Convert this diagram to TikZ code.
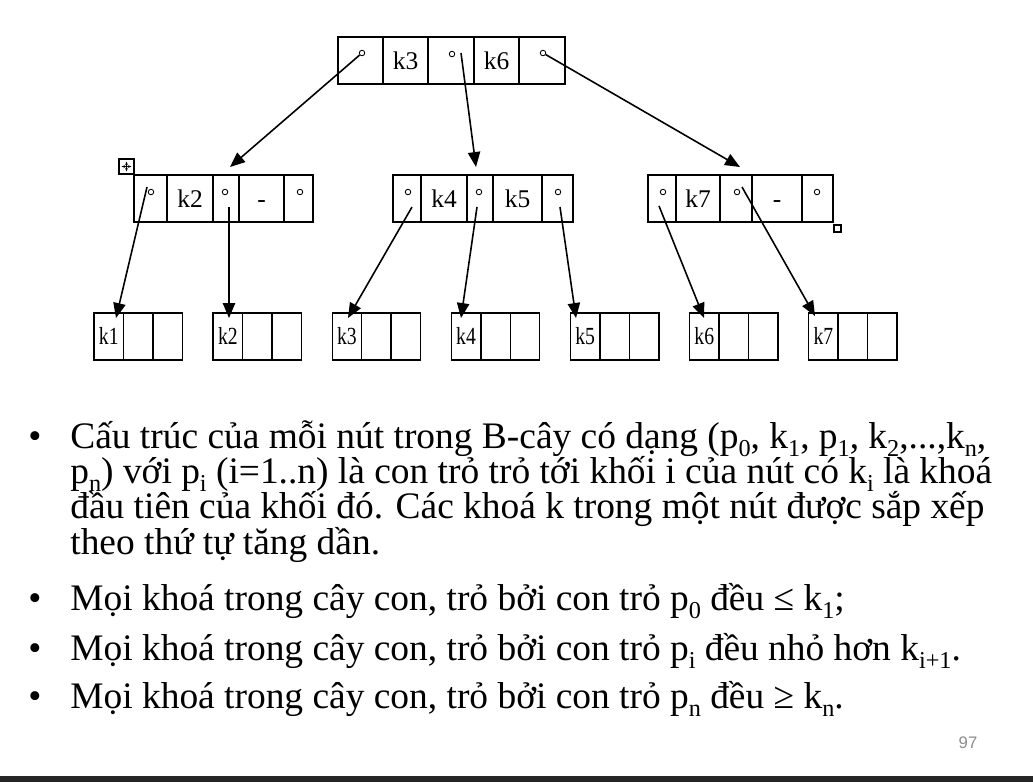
\documentclass[tikz,border=0pt]{standalone}
\usepackage{fontspec}
\usepackage{graphicx}
\setmainfont{Liberation Serif}
\newfontfamily\numfont{Liberation Sans}
\usetikzlibrary{arrows.meta,positioning}
\newcommand\sbs[1]{\raisebox{-0.22em}{\fontsize{13.8}{14}\selectfont #1}}

\begin{document}
\begin{tikzpicture}[x=0.02cm,y=-0.02cm,
  cell/.style={draw,line width=0.8pt,inner sep=0pt,outer sep=0pt,minimum height=0.94cm,text height=10pt,text depth=0pt,font=\fontsize{14.5}{16}\selectfont},
  leafcell/.style={draw,line width=0.8pt,inner sep=0pt,outer sep=0pt,minimum width=0.59cm,minimum height=0.94cm,text height=9.6pt,text depth=0pt,font=\fontsize{14}{16}\selectfont},
  ptr/.style={circle,draw,line width=0.5pt,inner sep=0pt,minimum size=0.11cm},
  arr/.style={line width=0.9pt,-{Triangle[length=8.5pt,width=7pt]}},
  bul/.style={anchor=base west,inner sep=0pt,font=\fontsize{21.3}{24}\selectfont}]

\useasboundingbox (0,0) rectangle (1033,782);

\foreach \a/\b/\t [count=\i] in {338/383/{},383/428/k3,428/474/{},474/519/k6,519/565/{}}
  \node[cell,minimum width={(\b-\a)*0.02cm}] (r\i) at ({(\a+\b)/2},60.5) {\t};
\foreach \a/\b/\t [count=\i] in {134/167/{},167/213/k2,213/239/{},239/284/-,284/313/{}}
  \node[cell,minimum width={(\b-\a)*0.02cm}] (a\i) at ({(\a+\b)/2},198.5) {\t};
\foreach \a/\b/\t [count=\i] in {393/421/{},421/467/k4,467/493/{},493/542/k5,542/573/{}}
  \node[cell,minimum width={(\b-\a)*0.02cm}] (b\i) at ({(\a+\b)/2},198.5) {\t};
\foreach \a/\b/\t [count=\i] in {648/676/{},676/720/k7,720/752/{},752/802/-,802/833/{}}
  \node[cell,minimum width={(\b-\a)*0.02cm}] (c\i) at ({(\a+\b)/2},198.5) {\t};

\foreach \i in {1,...,7}{
  \node[leafcell] (l\i a) at ({108.75+119.1*(\i-1)},336.5) {\scalebox{0.8}[1]{k\i}};
  \node[leafcell,right=0pt of l\i a] (l\i b) {};
  \node[leafcell,right=0pt of l\i b] (l\i c) {};
}

\foreach \n/\x/\y in {pr1/362/53,pr3/452/54,pr5/543/53,pa1/151/192,pa3/225/192,pa5/300/192,
  pb1/408/192,pb3/479/192,pb5/558/192,pc1/663/192,pc3/737/192,pc5/817/192}
  \node[ptr] (\n) at (\x,\y) {};

\foreach \n/\x/\y in {sr3/461/53,sa1/147/187,sa3/229/207,sb1/412/207,sb3/477/207,sb5/560/207,
  sc1/659/206,sc3/742/187,
  ta/230/167,tb/476/167,tc/740/167,t1/116/318,t2/229/318,t3/348/318,t4/461/318,t5/576/318,
  t6/704/318,t7/815/316}
  \coordinate (\n) at (\x,\y);

\draw[arr] (pr1) -- (ta);
\draw[arr] (sr3) -- (tb);
\draw[arr] (pr5) -- (tc);
\foreach \s/\t in {sa1/t1,sa3/t2,sb1/t3,sb3/t4,sb5/t5,sc1/t6,sc3/t7}
  \draw[arr] (\s) -- (\t);

\draw[line width=0.6pt] (119,159) rectangle (134,174);
\draw[line width=0.5pt,{Stealth[length=2pt]}-{Stealth[length=2pt]}] (121.5,166.5) -- (131.5,166.5);
\draw[line width=0.5pt,{Stealth[length=2pt]}-{Stealth[length=2pt]}] (126.5,161.5) -- (126.5,171.5);
\draw[line width=0.6pt] (834,225) rectangle (841,232);

\node[bul] (d1) at (28,448) {•};
\node[bul] (x1) at (70,448) {Cấu trúc của mỗi nút trong B-cây có dạng (p\sbs{0}, k\sbs{1}, p\sbs{1}, k\sbs{2},...,k\sbs{n},};
\node[bul] (x2) at (70,483) {p\sbs{n}) với p\sbs{i} (i=1..n) là con trỏ trỏ tới khối i của nút có k\sbs{i} là khoá};
\node[bul] (x3) at (70,518) {đầu tiên của khối đó. Các khoá k trong một nút được sắp xếp};
\node[bul] (x4) at (70,554) {theo thứ tự tăng dần.};
\node[bul] (d2) at (28,610) {•};
\node[bul] (x5) at (70,610) {Mọi khoá trong cây con, trỏ bởi con trỏ p\sbs{0} đều ≤ k\sbs{1};};
\node[bul] (d3) at (28,660) {•};
\node[bul] (x6) at (70,660) {Mọi khoá trong cây con, trỏ bởi con trỏ p\sbs{i} đều nhỏ hơn k\sbs{i+1}.};
\node[bul] (d4) at (28,708) {•};
\node[bul] (x7) at (70,708) {Mọi khoá trong cây con, trỏ bởi con trỏ p\sbs{n} đều ≥ k\sbs{n}.};

\node[font=\numfont\fontsize{9.5}{11}\selectfont,text=black!45] (pg) at (968,743) {97};
\fill[black!85] (0,776) rectangle (1033,782);
\end{tikzpicture}
\end{document}
